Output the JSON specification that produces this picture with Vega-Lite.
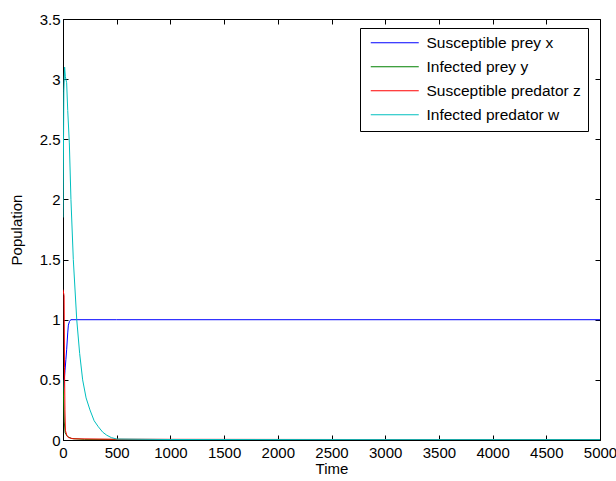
{
  "$schema": "https://vega.github.io/schema/vega-lite/v6.json",
  "autosize": "none",
  "padding": {"left": 63, "top": 19, "right": 16, "bottom": 41},
  "width": 537,
  "height": 421,
  "background": "white",
  "config": {
    "view": {"stroke": "black", "strokeWidth": 1},
    "font": "Liberation Sans",
    "axis": {
      "domainColor": "black",
      "domainWidth": 1,
      "tickColor": "black",
      "tickSize": -5,
      "labelColor": "black",
      "labelFont": "Liberation Sans",
      "labelFontSize": 15,
      "titleFont": "Liberation Sans",
      "titleFontSize": 15,
      "titleFontWeight": "normal",
      "titleColor": "black",
      "grid": false
    }
  },
  "data": {
    "values": [
      {"t": 0, "v": 0.4, "s": "Susceptible prey x"},
      {"t": 6, "v": 0.44, "s": "Susceptible prey x"},
      {"t": 12, "v": 0.5, "s": "Susceptible prey x"},
      {"t": 19, "v": 0.58, "s": "Susceptible prey x"},
      {"t": 27, "v": 0.67, "s": "Susceptible prey x"},
      {"t": 34, "v": 0.75, "s": "Susceptible prey x"},
      {"t": 44, "v": 0.89, "s": "Susceptible prey x"},
      {"t": 50, "v": 0.955, "s": "Susceptible prey x"},
      {"t": 60, "v": 0.985, "s": "Susceptible prey x"},
      {"t": 72, "v": 1.0, "s": "Susceptible prey x"},
      {"t": 500, "v": 1.0, "s": "Susceptible prey x"},
      {"t": 5000, "v": 1.0, "s": "Susceptible prey x"},
      {"t": 0, "v": 0.5, "s": "Infected prey y"},
      {"t": 5, "v": 0.35, "s": "Infected prey y"},
      {"t": 12, "v": 0.15, "s": "Infected prey y"},
      {"t": 20, "v": 0.06, "s": "Infected prey y"},
      {"t": 40, "v": 0.03, "s": "Infected prey y"},
      {"t": 80, "v": 0.012, "s": "Infected prey y"},
      {"t": 200, "v": 0.005, "s": "Infected prey y"},
      {"t": 1000, "v": 0.004, "s": "Infected prey y"},
      {"t": 3000, "v": 0.004, "s": "Infected prey y"},
      {"t": 5000, "v": 0.004, "s": "Infected prey y"},
      {"t": 0, "v": 1.25, "s": "Susceptible predator z"},
      {"t": 10, "v": 1.2, "s": "Susceptible predator z"},
      {"t": 14, "v": 0.6, "s": "Susceptible predator z"},
      {"t": 18, "v": 0.25, "s": "Susceptible predator z"},
      {"t": 22, "v": 0.08, "s": "Susceptible predator z"},
      {"t": 35, "v": 0.04, "s": "Susceptible predator z"},
      {"t": 50, "v": 0.02, "s": "Susceptible predator z"},
      {"t": 100, "v": 0.01, "s": "Susceptible predator z"},
      {"t": 500, "v": 0.006, "s": "Susceptible predator z"},
      {"t": 5000, "v": 0.002, "s": "Susceptible predator z"},
      {"t": 0, "v": 1.85, "s": "Infected predator w"},
      {"t": 8, "v": 2.9, "s": "Infected predator w"},
      {"t": 15, "v": 3.1, "s": "Infected predator w"},
      {"t": 22, "v": 3.02, "s": "Infected predator w"},
      {"t": 34, "v": 2.97, "s": "Infected predator w"},
      {"t": 44, "v": 2.74, "s": "Infected predator w"},
      {"t": 59, "v": 2.47, "s": "Infected predator w"},
      {"t": 74, "v": 2.0, "s": "Infected predator w"},
      {"t": 96, "v": 1.5, "s": "Infected predator w"},
      {"t": 128, "v": 1.0, "s": "Infected predator w"},
      {"t": 155, "v": 0.72, "s": "Infected predator w"},
      {"t": 183, "v": 0.5, "s": "Infected predator w"},
      {"t": 215, "v": 0.35, "s": "Infected predator w"},
      {"t": 251, "v": 0.25, "s": "Infected predator w"},
      {"t": 290, "v": 0.16, "s": "Infected predator w"},
      {"t": 329, "v": 0.11, "s": "Infected predator w"},
      {"t": 370, "v": 0.065, "s": "Infected predator w"},
      {"t": 407, "v": 0.04, "s": "Infected predator w"},
      {"t": 450, "v": 0.02, "s": "Infected predator w"},
      {"t": 500, "v": 0.008, "s": "Infected predator w"},
      {"t": 1000, "v": 0.004, "s": "Infected predator w"},
      {"t": 3000, "v": 0.003, "s": "Infected predator w"},
      {"t": 5000, "v": 0.003, "s": "Infected predator w"}
    ]
  },
  "layer": [
    {
      "mark": {"type": "line", "strokeWidth": 1, "clip": true},
      "encoding": {
        "x": {
          "field": "t", "type": "quantitative",
          "scale": {"domain": [0, 5000], "nice": false},
          "axis": {"title": "Time", "values": [0, 500, 1000, 1500, 2000, 2500, 3000, 3500, 4000, 4500, 5000], "format": "d", "labelPadding": 10, "titlePadding": 1, "labelFlush": false}
        },
        "y": {
          "field": "v", "type": "quantitative",
          "scale": {"domain": [0, 3.5], "nice": false},
          "axis": {"title": "Population", "values": [0, 0.5, 1, 1.5, 2, 2.5, 3, 3.5], "format": "~g", "labelPadding": 8, "titlePadding": 15, "labelFlush": false}
        },
        "color": {
          "field": "s", "type": "nominal",
          "scale": {
            "domain": ["Susceptible prey x", "Infected prey y", "Susceptible predator z", "Infected predator w"],
            "range": ["#0000ff", "#008000", "#ff0000", "#00bfbf"]
          },
          "legend": {
            "title": null,
            "orient": "none",
            "legendX": 297,
            "legendY": 9,
            "direction": "vertical",
            "fillColor": "white",
            "strokeColor": "black",
            "cornerRadius": 0,
            "padding": 7,
            "rowPadding": 7,
            "symbolType": "M-4,0L4,0",
            "symbolSize": 144,
            "symbolStrokeWidth": 1,
            "symbolOffset": 20,
            "labelOffset": 24,
            "labelFont": "Liberation Sans",
            "labelFontSize": 15.5,
            "labelColor": "black",
            "labelLimit": 400
          }
        },
        "order": {"field": "t", "type": "quantitative"}
      }
    },
    {
      "mark": {"type": "point", "opacity": 0},
      "encoding": {
        "x": {
          "field": "t", "type": "quantitative",
          "axis": {"orient": "top", "title": null, "labels": false, "domain": false, "values": [0, 500, 1000, 1500, 2000, 2500, 3000, 3500, 4000, 4500, 5000]}
        },
        "y": {
          "field": "v", "type": "quantitative",
          "axis": {"orient": "right", "title": null, "labels": false, "domain": false, "values": [0, 0.5, 1, 1.5, 2, 2.5, 3, 3.5]}
        }
      }
    }
  ],
  "resolve": {"axis": {"x": "independent", "y": "independent"}}
}
